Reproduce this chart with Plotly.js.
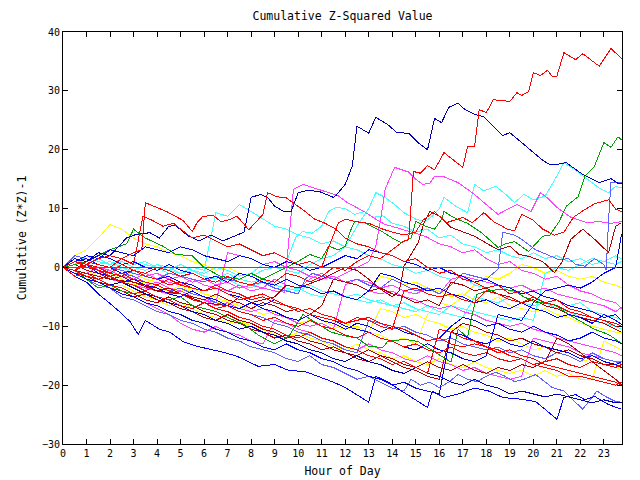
<!DOCTYPE html>
<html><head><meta charset="utf-8">
<script src="https://cdn.plot.ly/plotly-3.0.1.min.js"></script>
<style>
html,body{margin:0;padding:0;background:#fff;}
#chart{width:640px;height:480px;}
.js-plotly-plot .scatterlayer path.js-line{shape-rendering:crispEdges;}
</style></head><body><div id="chart"></div>
<script>
// ---------- data (hour of day, cumulative (Z*Z)-1) ----------
const HALF_HOURS = [0,0.5,1,1.5,2,2.5,3,3.5,4,4.5,5,5.5,6,6.5,7,7.5,8,8.5,9,9.5,10,10.5,11,11.5,12,12.5,13,13.5,14,14.5,15,15.5,16,16.5,17,17.5,18,18.5,19,19.5,20,20.5,21,21.5,22,22.5,23,23.5,23.75];
const HOUR_TICKS = [0,1,2,3,4,5,6,7,8,9,10,11,12,13,14,15,16,17,18,19,20,21,22,23];
const ZERO_LINE_X = [0, 23.77];
const ZERO_LINE_Y = [0, 0];

const R_TOP_H = [0,0.5,1,1.5,2,2.5,3,3.5,4,4.5,5,5.5,6,6.5,7,7.5,8,8.5,9,9.5,10,10.5,11,11.5,12,12.5,13,13.5,14,14.5,14.7,14.9,15.2,15.5,15.8,16.2,17,17.2,17.5,17.7,18,18.3,19,19.3,19.5,19.8,20,20.3,20.6,20.8,21,21.3,21.8,22.1,22.8,23.3,23.75];
const R_TOP_V = [0,-0.5,0.5,-0.5,-1,0.5,-0.5,-1,0,-0.5,-1.5,-1,-2,-2.5,-1.5,-2.5,-3,-2,-2.5,-1,-1.5,-2.5,-1.5,0,-0.5,1,2,1.5,3,4.5,4.7,16.3,16,17.3,16.6,19.5,17,20.5,20.5,26.8,26.3,28.5,28.2,29.7,29.2,29.9,33.1,32.6,33.5,32.5,32.5,36.5,35.3,36.3,34.2,37.2,35.5];

const N1_H = [0,0.5,1,1.5,2,2.7,3.1,3.7,4.1,4.5,4.8,5.3,5.8,6.3,6.8,7.4,7.7,8,8.4,8.7,9,9.4,9.7,10,10.4,10.9,11.5,11.6,12,12.3,12.5,13,13.3,13.8,14.2,14.7,15.1,15.5,15.8,16.1,16.4,16.8,17.1,17.5,17.9,18.3,18.7,19,19.5,20,20.4,20.7,21,21.4,22.1,22.8,23.3,23.6,23.75];
const N1_V = [0,1.5,1,2.5,2,5,5.6,5.9,5,7,7.1,5.4,4.5,5.5,4.5,5.5,6,11.9,12.4,11.9,10.4,9.5,9.5,12.7,13.1,12.9,11.9,12.2,14.1,17.2,24,22.8,25.5,24.3,22.9,22.8,21.2,20,25.3,24.6,27.2,27.9,26.8,26,25.6,24,22.4,22.9,21.2,19.5,18.2,17.5,17.5,17.8,15.8,14.4,15.1,14.3,14.3];

const G_TOP_H = [0,1,2,2.7,3,3.5,4.25,4.8,5.5,6,6.7,7.5,8,8.5,9,9.5,9.9,10.5,11,11.3,11.7,12,12.2,12.4,12.8,13.1,13.6,14,14.4,14.8,15,15.4,15.8,16.1,16.2,16.6,17.2,17.8,18.5,18.8,19.2,19.8,20.4,20.7,21.1,21.4,21.9,22.2,22.6,23,23.3,23.6,23.75];
const G_TOP_V = [0,1,3,4,6.5,5,3.6,2.2,2,0,-1.5,-2,-1,-2,-1,0,0.8,2.2,1.5,3.6,3,3.6,6,7.8,7.6,7,6,5,4.2,5,7.8,7,6.5,8.2,9.5,8.5,7.5,5.9,3.4,4,4.4,2.7,5.3,5.5,7.8,10.4,12,15.5,17.2,21.2,20.4,22.2,21.7];

const M1_H = [0,0.5,1,1.5,2,3,3.5,4,5,5.5,6,7,7.5,8,8.5,9,9.5,10,10.5,11,11.5,12,12.5,13,13.3,13.5,13.7,14.1,14.4,14.7,15,15.3,15.6,15.8,16.2,16.8,17.4,17.9,18.5,18.9,19.3,19.9,20.3,20.6,21,21.6,22.3,22.8,23.3,23.75];
const M1_V = [0,-0.5,-1,0,-1,-2,-1,-2,-3,-2,-3,-4,-3,-4,-3.5,-2,-3,-3.5,-2,-1,-2,-1,0,1,3.6,8,13.3,17,16.6,16.2,15,14.1,14.3,15.5,15.4,14.4,12.7,11,9,9.9,10.7,9.5,12.7,11.8,10.2,8.5,7.6,7.8,7.5,7.8];

const M2_H = [0,0.5,1,1.5,2,2.5,3,3.5,4,4.5,5,5.5,6,6.5,7,7.5,8,8.5,9,9.4,9.8,10.2,10.8,11.3,11.7,12.1,12.8,13.3,13.7,14.4,15,15.4,16,16.5,17,17.5,18,18.5,19,19.5,20,20.5,21,21.5,22,22.5,23,23.5,23.75];
const M2_V = [0,1,0.5,0,-0.5,0.5,-0.5,-1.5,-1,-2,-1.5,-2.5,-2,-3,-2.5,-3.5,-3,-3.5,-4,-4.2,13.3,14.1,13.3,12.7,12.2,11,9.5,8.2,7.3,6.5,5.8,5.3,4,3.5,2.5,3,1.5,0.5,1,-0.5,-1,-2,-1.5,-3,-4,-4.5,-5.5,-6,-7];

const C1_H = [0,0.5,1,1.5,2,2.5,3,3.5,4,4.5,5,5.5,6,6.5,7,7.5,8,8.5,9,9.5,10,10.5,11,11.5,12,12.5,13,13.3,13.7,14.1,14.5,15,15.4,15.7,16,16.2,16.7,17.2,17.5,17.9,18.4,18.8,19.2,19.6,20,20.5,21,21.3,21.8,22.3,22.8,23.2,23.5,23.75];
const C1_V = [0,1,2,1,0.5,1.5,0.5,1,0,-0.5,0.5,-0.5,-1,0,-0.5,-1.5,-1,0.5,0,-0.5,-1,0.5,1.5,2,3.5,7,10,12.7,11.9,10.7,9.3,8.2,7.8,8.7,10,11.9,10.4,9.3,14.1,13,13.8,12.5,11,12.4,11.5,12.1,15.5,17.8,16.5,15,13.5,12.7,13.8,13.5];

const C3_H = [0,0.5,1,1.5,2,2.5,3,3.5,4,4.5,5,5.5,6,6.5,7,7.5,8,8.5,9,9.5,9.9,10.2,10.6,11,11.3,11.6,12,12.4,12.8,13.2,13.6,14,14.5,15,15.5,16,16.5,17,17.5,18,18.5,19,19.5,20,20.5,21,21.5,22,22.5,23,23.5,23.75];
const C3_V = [0,-0.5,0.5,-0.5,-1,0,-1,-1.5,-1,-2,-1.5,-2.5,-2,-3,-2,-1,-1.5,-0.5,0,1,5.1,6.1,5.8,7,9.5,10.2,10,9,9.5,8.5,8.8,7.5,7,6,6.5,5,5.5,4,3.5,2.5,3,2,1.5,2.5,1.5,2,1,1.5,0.5,1,0.5,1];

const DR1_H = [0,1,2,3,4,5,6,7,7.5,8,9,9.5,10,11,11.5,12,12.5,13,13.5,14,14.3,14.5,15.1,15.35,15.6,16,16.5,17,17.5,18.1,18.5,19,19.4,19.8,20.4,20.9,21.2,21.6,22.1,22.6,23.2,23.5,23.75];
const DR1_V = [0,-1,-2,-2.5,-4,-4.5,-6,-6.5,-5,-6,-5,-3,-3.5,-2,-1,0,-0.5,-2,-3.7,-5,-4,0.2,4.2,7.6,9.5,8.7,6.8,6,5.3,3.9,3,3.6,2.2,1.9,1,-0.9,0.8,4.8,6.5,4.8,2.5,7,7.6];

const R1_H = [0,0.5,1,1.5,2,2.5,3,3.35,3.5,4,4.4,5.1,5.5,5.7,5.95,6.4,6.7,7,7.4,7.9,8.5,8.7,9.1,9.5,9.9,10.3,10.7,11.1,11.6,12,12.5,13,13.5,14,14.5,15,15.5,16,16.5,17,17.5,18,18.5,19,19.5,20,20.5,21,21.5,22,22.5,23,23.5,23.75];
const R1_V = [0,1,0.5,1.5,2,1.5,2.5,3,11,10.2,9.5,8,6.1,7.6,8.7,8.8,7.8,8,8.7,6.4,9,12.7,12,11.8,10.7,9.5,8.2,7.6,6.5,5,4,3.5,2.5,2,1,1.5,0,-1,-0.5,-2,-2.5,-3.5,-3,-4.5,-4,-5,-6,-5.5,-7,-7.5,-8.5,-9,-9.5,-10];

const R2_H = [0,0.5,1,1.5,2,2.5,3,3.4,3.8,4.25,4.7,5,5.5,6,6.5,7,7.5,8,8.5,9,9.5,10,10.5,11,11.3,11.7,12,12.4,13,13.6,14,14.5,15,15.3,15.8,16.3,17,17.4,17.9,18.3,18.9,19.2,19.5,20,20.4,20.9,21.3,21.7,22.1,22.6,23.2,23.5,23.75];
const R2_V = [0,-0.5,1,0.5,0,1.5,0.5,8.7,8,7,7.5,6.5,5,5.5,4.5,3.5,4,3,2,2.5,1.5,0.5,1,0,3.5,7.5,8.2,7.8,7.5,6.5,6,5.5,6,8,9.5,7.6,8.5,7.6,9.3,7.8,6.5,6.2,9,8,6.5,5.5,6,8.5,9.6,10.8,11.5,9.9,9.5];

const P1_H = [0,0.5,1,1.5,2,3,4,4.5,5,6,6.5,7,8,8.5,9,10,10.3,10.6,11,12,12.5,13,13.5,14,14.5,15,15.5,16,16.5,17,17.5,18,18.5,18.7,19.2,19.5,20.1,20.6,21.1,21.5,21.8,22.2,22.6,23,23.1,23.2,23.3,23.75];
const P1_V = [0,1.5,1,0.5,0,-1,-2,-1,-1.5,-2.5,-1.5,-2,-3,-2.5,-3.5,-4.5,-2,-1,-1.5,-2.5,-2,-3,-3.5,-2,-3,-4,-3.5,-4.5,-3,-1,-1.5,-2,-0.3,6,5.5,4.8,3,2.2,1.3,1.5,0.5,0.2,1.5,0.5,-0.5,8.2,14.4,14.4];

const G2_H = [0,0.5,1,1.5,2,2.5,3,3.5,4,4.5,5,5.5,6,6.5,7,7.7,8.3,9,9.6,10.2,10.6,11,11.4,12.1,12.5,13,13.6,13.8,14.5,15.1,15.8,16.5,16.8,17.2,17.4,17.6,18,18.7,19.2,19.6,20.1,20.9,21.5,22.1,22.6,23.2,23.75];
const G2_V = [0,-0.5,-2,-3.5,-3,-4,-4.5,-4,-5,-5.5,-5,-6.5,-7,-7.5,-8.5,-9.7,-11.5,-13,-11.7,-8,-9,-10,-11,-11.7,-12,-13.4,-13.6,-12.6,-12.2,-12.6,-14.3,-16.1,-10.5,-11.9,-8,-4.6,-4,-3.7,-4,-5,-5.9,-6.3,-8,-9.3,-10.5,-11.4,-12.9];

const B1_H = [0,0.5,1,1.5,1.9,2.4,2.85,3.2,3.5,4.1,4.55,5.1,5.7,6.25,6.8,7.4,7.9,8.3,9,9.6,10.3,11,11.5,12,12.5,13,13.3,13.8,14.4,15.1,15.5,15.7,16.2,16.8,17.5,18.1,18.7,19.5,20.1,20.5,21,21.3,21.8,22.2,22.6,23.2,23.75];
const B1_V = [0,-1.5,-2.5,-4.5,-5.8,-7.5,-9.2,-11.4,-9,-10.5,-11,-12.6,-13.4,-13.9,-14.4,-15.1,-16,-16.8,-16.5,-17.5,-17.7,-18.7,-19.5,-20.4,-21.6,-22.9,-18.5,-19.4,-21,-22.8,-23.8,-21,-22.1,-21.5,-20.5,-21,-22.1,-22.4,-22.8,-24.1,-25.8,-22.1,-21.6,-22.5,-21.9,-23.3,-24.1];

const P2_H = [0,0.5,1,1.5,2,2.5,3,3.5,4,4.5,5,5.5,6,6.5,7,7.5,8,8.5,9,9.5,10,10.5,11,11.5,12,12.5,13,13.5,14,14.5,14.8,15.2,15.6,16,16.4,16.8,17.2,17.6,18,18.4,18.8,19.2,19.6,20.1,20.8,21.3,21.7,22.1,22.7,23.1,23.5,23.75];
const P2_V = [0,-1,-2,-3,-3.5,-5,-5.5,-6.5,-7.5,-8,-9,-9.5,-10.5,-11,-12,-12.5,-13.5,-14,-14.5,-15.5,-16,-15,-16.5,-17,-18,-19,-18.5,-19.5,-20.5,-21,-19,-20,-19.5,-20.4,-19.5,-18.2,-19,-19.4,-18.5,-17.8,-18.5,-19.4,-19,-18.2,-20.4,-21,-22.5,-24.1,-21,-22,-22.8,-22.9];

// series sampled on HALF_HOURS
const C2_V = [0,0.5,1.5,0.5,0,1,0,-0.5,0.5,-0.5,-1,0,-0.5,9.3,8.7,10.7,9.5,8.2,7,6.5,5.5,5,4,4.5,3.5,3,2,1.5,0.5,0,-1,-0.5,-1.5,-2,-1.5,-3,-3.5,-3,-4,-4.5,-4,-5,-5.5,-6.5,-6,-7.5,-8,-8.5,-9];
const C4_V = [0,1.5,1,0.5,1,0,-0.5,0.5,0,-1,-1.5,-1,-2,-2.5,-2,-3,-3.5,-2.5,-3.5,-4,-3.5,-4.5,-5,-4,-5,-5.5,-6,-5.5,-6.5,-7,-7.5,-6.5,-7.5,-8,-8.5,-5,-5.5,-6,-5,-6,-6.5,-6,-7,-7.5,-8.5,-9,-9.5,-10,-10.5];
const C5_V = [0,0.5,2,1.5,0.5,1,0,-0.5,0.5,0,-1,-0.5,-1.5,-2,-1,-2,-2.5,-2,-3,-3.5,-4,-3,-4,-4.5,-5,-4.5,-5.5,-6,-6.5,-6,-7,-7.5,-8,-6.5,-7,-7.5,-8,-8.5,-9,-8.5,-9,-1,0,-0.5,0.5,1.5,1,2,1.5];
const Y1_V = [0,2,3,5,7.3,6.5,5,4,3.5,2.5,2,1,0.5,-0.5,0,-1,-1.5,-2.5,-3,-2,-3,-3.5,-4.5,-4,-5,-5.5,-4,-1.5,-2,-3,-2.5,-3.5,-4,-5,-4.5,-5.5,-6,-5,-6.5,-7,-7.5,-7,-8,-8.5,-9.5,-10,-10.5,-11,-11];
const Y2_V = [0,-1,-1.5,-2.5,-3.5,-3,-4,-5,-5.5,-6.5,-6,-7,-8,-8.5,-9.5,-9,-10,-10.5,-11.5,-12,-11,-12,-12.5,-13.5,-14,-13,-14,-14.5,-15.5,-15,-16,-16.5,-15.5,-16.5,-17,-16,-17,-17.5,-18,-17.5,-18.5,-17.5,-18.5,-18,-19,-19,-12.5,-13.5,-14];
const Y3_V = [0,0.5,-0.5,-1.5,-1,-2,-3,-2.5,-3.5,-4,-3,-4.5,-5,-6,-5.5,-6.5,-7,-8,-7.5,-8.5,-9,-8,-9,-10,-10.5,-10,-11,-7,-7.5,-8.5,-8,-9,-9.5,-10.5,-10,-11,-11.5,-12.5,-12,-13,-14,-13.5,-14.5,-15,-16,-15.5,-16.5,-17,-17.5];
const Y4_V = [0,1,0.5,0,-1,-1.5,-1,-2,-2.5,-3.5,-4,-3.5,-4.5,-5,-6,-6.5,-7.5,-7,-8,-8.5,-9.5,-9,-10,-10.5,-9.5,-10.5,-11,-11.5,-12.5,-12,-13,-8,-6,-6.5,-5,-3,-1.5,-2,-1,0.5,0,-1,-0.5,-1.5,-2,-1.5,-2.5,-3,-3.5];
const DR3_V = [0,-1,-2,-2.5,-3.5,-4,-5,-4.5,-5.5,-6,-7,-7.5,-8.5,-9,-8,-9,-9.5,-10.5,-11,-12,-11.5,-12.5,-13,-14,-14.5,-15,-14,-15,-15.5,-16.5,-17,-16,-17,-17.5,-16.5,-17.5,-18,-17,-17.5,-16.5,-17,-16,-12,-13,-14.5,-16,-17.5,-19,-20];
const DR4_V = [0,-1,-1.5,-2.5,-3,-4,-4.5,-5.5,-6,-5,-6,-6.5,-7.5,-8,-9,-9.5,-10.5,-11,-12,-11.5,-12.5,-13,-14,-13.5,-14.5,-15.5,-16,-15,-16,-17,-17.5,-18.5,-19,-11,-9.5,-10,-11,-11.5,-12.5,-12,-13,-13.5,-14.5,-14,-15,-15.5,-16.5,-16.5,-17];
const DR5_V = [0,0.5,-0.5,-1,-2,-1.5,-2.5,-3,-4,-3.5,-4.5,-5,-5.5,-4.5,-5.5,-6,-7,-6,-6.5,-7.5,-7,-8,-6.5,-2,-2.5,-3,-4,-3.5,-4.5,-5,-6,-5.5,-6.5,-2.5,-3,-4,-3.5,-4.5,-5,-6,-5.5,-6.5,-7,-8,-8.5,-9,-9.5,-10.5,-11];
const R4_V = [0,-0.5,-1.5,-2,-1.5,-2.5,-3,-4,-3,-4,-4.5,-5.5,-6,-7,-6.5,-7.5,-8,-9,-8.5,-9.5,-10,-9,-10,-10.5,-11.5,-12,-11,-12,-12.5,-13.5,-13,-14,-14.5,-13.5,-14.5,-15,-14.5,-15.5,-16,-15.5,-16.5,-16,-15.5,-16.5,-17,-16,-16.5,-17,-16.5];
const R5_V = [0,-1.5,-1,-2,-3,-3.5,-4.5,-4,-5,-5.5,-6.5,-7,-6,-7,-7.5,-8.5,-9,-10,-10.5,-11.5,-12,-11,-12,-12.5,-13.5,-14,-15,-15.5,-16.5,-16,-17,-18,-10.5,-11,-12,-12.5,-13.5,-14,-15,-15.5,-16.5,-17,-17.5,-18.5,-18.5,-19,-19.5,-20,-19.5];
const R6_V = [0,1,0,-0.5,-1.5,-1,-2,-2.5,-3,-2,-3,-3.5,-4,-3.5,-4.5,-5.5,-5,-4.5,-5.5,-6.5,-7,-8,-8.5,-9,-9.5,-9,-8.5,-9.5,-10,-10.5,-11.5,-12.5,-12,-13,-13.5,-13,-13.5,-14.5,-14,-15,-15.5,-16.5,-17,-17.5,-18,-18.5,-19,-19.5,-20];
const R7_V = [0,-0.5,0.5,0,-1,-1.5,-0.5,-1.5,-2,-3,-2.5,-3.5,-4,-3,-4,-4.5,-5.5,-5,-6,-6.5,-7.5,-7,-8,-8.5,-9.5,-8.5,-9,-10,-10.5,-4,-3.5,-4.5,-5,-4.5,-5.5,-6,-4,-4.5,-5.5,-6,-5,-6,-6.5,-7.5,-8,-8.5,-9,-10,-10];
const M3_V = [0,-1,-2,-2.5,-3.5,-4.5,-5,-6,-7,-8,-9.5,-10.5,-11,-10,-11,-11.5,-12.5,-13,-9,-9.5,-10.5,-11,-12,-12.5,-13.5,-14,-13,-14,-14.5,-15.5,-16,-15,-16,-16.5,-17.5,-17,-18,-18.5,-19,-18.5,-12,-12.5,-13,-13.5,-14.5,-15,-15.5,-16,-16];
const M4_V = [0,0.5,-0.5,-1,-0.5,-1.5,-2,-3,-2.5,-3.5,-4,-5,-5.5,-6.5,-6,-7,-7.5,-7,-8,-8.5,-9.5,-10,-9.5,-10.5,-3,-2,-2.5,-3.5,-3,-4,-4.5,-3.5,-4.5,-2,-1.5,-2,-2.5,-3,-3.5,-3,-4,-3.5,-4.5,-5,-5.5,-6,-6.5,-7.5,-6.8];
const M5_V = [0,0.5,-0.5,-1,-2,-2.5,-3,-3.5,-4,-4.5,-4,-5,-5.5,-6,2.5,2,1.5,0.5,1,0,-0.5,-1.5,-2,-1.5,-2.5,-3,-4,-4.5,-4,-5,-5.5,-6.5,-7,-6.5,-7.5,-8,-9,-9.5,-10,-9.5,-10.5,-11,-12,-12.5,-13,-13.5,-14,-14.5,-15];
const B2_V = [0,-1,-2,-2.5,-3.5,-4.5,-5,-6,-6.5,-7.5,-8,-9,-9.5,-10.5,-11,-12,-12.5,-13.5,-14,-13,-14,-14.5,-15.5,-16,-17,-17.5,-18.5,-19,-20,-19.5,-20.5,-21,-21.5,-11,-11.5,-12.5,-13,-12,-13,-13.5,-12.5,-13.5,-14,-14.5,-15.5,-15,-16,-16.5,-16];
const BJ_V = [0,1,1.5,0.5,0,-1,-0.5,-1.5,-2,-1.5,-2.5,-3,-4,-3.5,-4.5,-5,-6,-6.5,-5.5,-6.5,-7,-8,-8.5,-9,-10,-10.5,-11,-12,-12.5,-13.5,-14,-13,-14,-14.5,-15.5,-16,-15,-8,-8.5,-9,-6,-4,-3.5,-3,-3.5,-2.5,-1,0,5.6];
const B3_V = [0,1.5,1,2,1.5,0.5,1,0,-0.5,0.5,-0.5,-1,-2,-1.5,-2.5,-1,-1.5,-2.5,-3,-2,-3,-3.5,-4.5,-4,-5,-5.5,-4,-1,-1.5,-2.5,-3,-4,-3.5,-4.5,-5,-6,-5.5,-6.5,-7,-6,-7,-7.5,-8.5,-8,-8.5,-9.5,-8,-9,-9.7];
const B4_V = [0,-0.5,0.5,-1,-1.5,-2.5,-2,-3,-3.5,-4.5,-5,-4,-5,-5.5,-6.5,-7,-6,-7,-7.5,-8.5,-9,-8,-9,-9.5,-10.5,-9.5,-10,-11,-10,-11,-11.5,-12.5,-12,-10,-8.5,-9,-10,-9.5,-10.5,-11,-10,-11,-11.5,-12.5,-12,-11,-12,-12.5,-13];
const B5_V = [0,1,2,1.5,3,2.5,2,3.5,3,2.5,3.5,3,2,1.5,1,2,1.5,0.5,0,1,0.5,-0.5,0,1,2,1.5,3,2.5,2,1,0.5,-0.5,0,-1,-1.5,-2.5,-2,-3,-3.5,-4.5,-4,-5,-5.5,-6.5,-7,-7.5,-8.5,-8,-9];
const N2_V = [0,-0.5,-1.5,-2,-3,-2.5,-3.5,-4.5,-5,-6,-6.5,-7.5,-8,-9,-9.5,-10.5,-10,-11,-11.5,-12.5,-13,-14,-14.5,-15.5,-16,-15,-16,-16.5,-17.5,-18,-17,-18,-18.5,-19.5,-20,-19,-20,-20.5,-21.5,-21,-21.5,-22,-21.5,-22,-22.5,-23,-22.5,-23,-23];
const P3_V = [0,2,1.5,0.5,0,-1,-1.5,-2.5,-3,-4,-3.5,-4.5,-5,-6,-6.5,-7.5,-8,-8.5,-9.5,-10,-11,-11.5,-12.5,-13,-14,-14.5,-9,-9.5,-10.5,-10,-11,-11.5,-12.5,-12,-13,-13.5,-14,-13.5,-14.5,-14,-15,-15.5,-14.5,-15,-16,-14.5,-15.5,-16,-16.5];

// ---------- styles ----------
const RED = '#ff0000', DRED = '#b00000', BLUE = '#0000ff', NAVY = '#0000b0',
      PERI = '#6060ff', MAG = '#ff40ff', CYAN = '#40ffff', YEL = '#ffff00', GRN = '#00a000';

const SERIES = [
  [HALF_HOURS, Y2_V, YEL], [HALF_HOURS, Y3_V, YEL], [HALF_HOURS, Y1_V, YEL], [HALF_HOURS, Y4_V, YEL],
  [HALF_HOURS, C4_V, CYAN], [HALF_HOURS, C5_V, CYAN], [HALF_HOURS, C2_V, CYAN], [C3_H, C3_V, CYAN], [C1_H, C1_V, CYAN],
  [HALF_HOURS, M3_V, MAG], [HALF_HOURS, M4_V, MAG], [HALF_HOURS, M5_V, MAG], [M2_H, M2_V, MAG], [M1_H, M1_V, MAG],
  [P2_H, P2_V, PERI], [HALF_HOURS, P3_V, PERI], [P1_H, P1_V, PERI],
  [HALF_HOURS, DR3_V, DRED], [HALF_HOURS, DR4_V, DRED], [HALF_HOURS, DR5_V, DRED], [DR1_H, DR1_V, DRED],
  [G2_H, G2_V, GRN], [G_TOP_H, G_TOP_V, GRN],
  [HALF_HOURS, B2_V, BLUE], [HALF_HOURS, B4_V, BLUE], [HALF_HOURS, B3_V, BLUE], [HALF_HOURS, B5_V, BLUE],
  [HALF_HOURS, BJ_V, BLUE], [B1_H, B1_V, BLUE],
  [HALF_HOURS, N2_V, NAVY], [N1_H, N1_V, NAVY],
  [HALF_HOURS, R4_V, RED], [HALF_HOURS, R5_V, RED], [HALF_HOURS, R6_V, RED], [HALF_HOURS, R7_V, RED],
  [R1_H, R1_V, RED], [R2_H, R2_V, RED], [R_TOP_H, R_TOP_V, RED]
];

const traces = SERIES.map(([x, y, c]) => ({
  type: 'scatter', mode: 'lines', x: x, y: y,
  line: {color: c, width: 1}, hoverinfo: 'skip'
}));
traces.push({type: 'scatter', mode: 'lines', x: ZERO_LINE_X, y: ZERO_LINE_Y,
  line: {color: GRN, width: 1}, hoverinfo: 'skip'});

const MONO = 'DejaVu Sans Mono, monospace';
const axisCommon = {
  showline: true, linecolor: '#000', linewidth: 1, mirror: 'ticks',
  ticks: 'inside', ticklen: 5, tickcolor: '#000', tickwidth: 1,
  showgrid: false, zeroline: false,
  tickfont: {family: MONO, size: 10, color: '#000'}
};

const layout = {
  width: 640, height: 480,
  margin: {l: 63, r: 18, t: 32, b: 36},
  paper_bgcolor: '#fff', plot_bgcolor: '#fff',
  showlegend: false,
  title: {text: 'Cumulative Z-Squared Value', font: {family: MONO, size: 11.5, color: '#000'},
          x: 0.5, xref: 'paper', y: 1 - 16/480, yanchor: 'middle'},
  xaxis: Object.assign({}, axisCommon, {
    range: [0, 23.77], tickvals: HOUR_TICKS, ticktext: HOUR_TICKS.map(String),
    title: {text: 'Hour of Day', font: {family: MONO, size: 11.5, color: '#000'}, standoff: 8}
  }),
  yaxis: Object.assign({}, axisCommon, {
    range: [-30, 40], dtick: 10, tick0: 0,
    title: {text: 'Cumulative (Z*Z)-1', font: {family: MONO, size: 11.5, color: '#000'}, standoff: 12}
  })
};

Plotly.newPlot('chart', traces, layout, {staticPlot: true, displayModeBar: false});
</script></body></html>
